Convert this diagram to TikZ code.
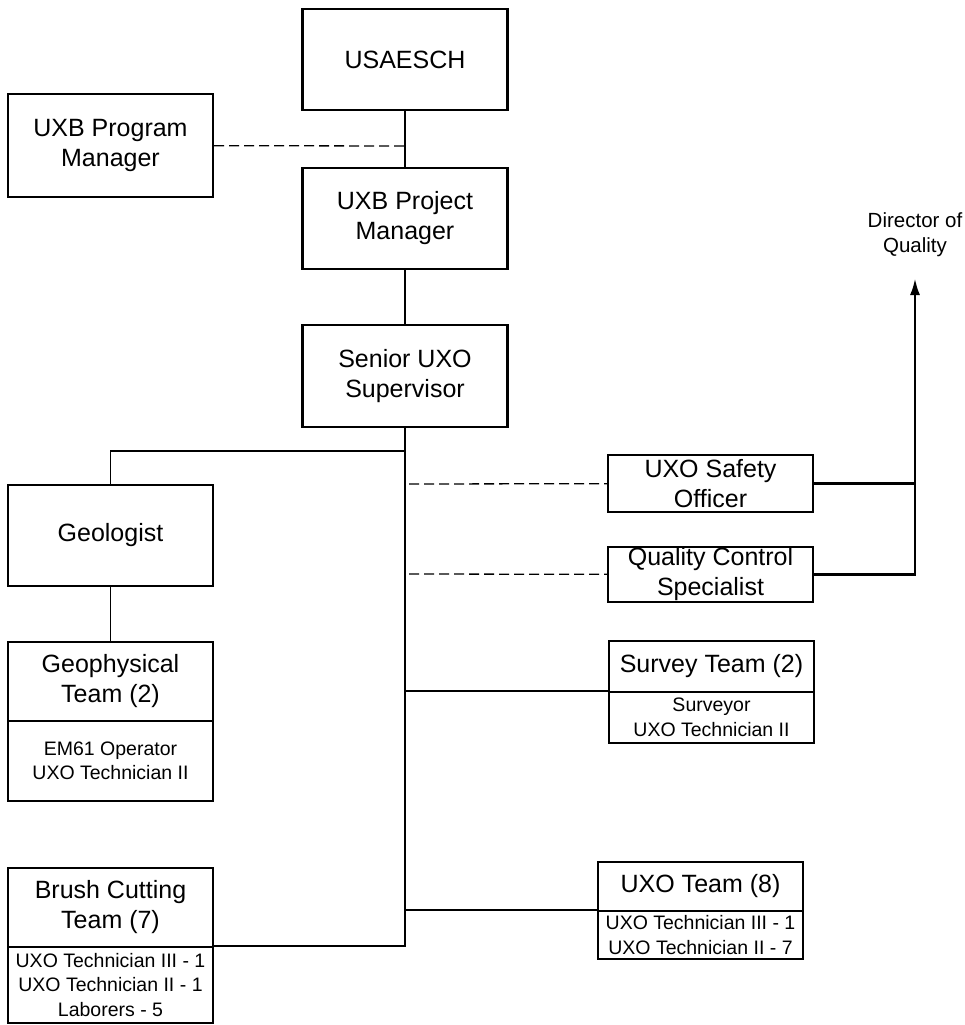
\documentclass[tikz,border=0pt]{standalone}
\usepackage{fontspec}
\setmainfont{Liberation Sans}
\usetikzlibrary{arrows.meta}
\tikzset{>={Latex[length=17pt,width=10pt]},
  unit/.style={draw,line width=2.2pt,minimum width=205pt,inner sep=0pt,align=center,font=\fontsize{25}{30}\selectfont},
  crew/.style={unit,font=\fontsize{19.5}{24.5}\selectfont},
  link/.style={line width=1.2pt},
  staff/.style={line width=1.3pt,dash pattern=on 10pt off 5pt},
  report/.style={line width=2.8pt}}

\begin{document}
\begin{tikzpicture}[x=1pt,y=-1pt]
\useasboundingbox (0,0) rectangle (965,1025);
% chain of command
\node[unit,minimum height=101pt] (USA) at (405,59.5) {USAESCH};
\node[unit,minimum height=103pt] (PGM) at (110.5,145.5) {UXB Program\\Manager};
\node[unit,minimum height=101pt] (PJM) at (405,218.5) {UXB Project\\Manager};
\node[unit,minimum height=102pt] (SUP) at (405,376) {Senior UXO\\Supervisor};
% left branch
\node[unit,minimum height=101pt] (GEO) at (110.5,535.5) {Geologist};
\node[unit,minimum height=79pt] (GPH) at (110.5,681.5) {Geophysical\\Team (2)};
\node[crew,minimum height=80pt] (GPHc) at (110.5,761) {EM61 Operator\\UXO Technician II};
\node[unit,minimum height=79pt] (BRU) at (110.5,907.5) {Brush Cutting\\Team (7)};
\node[crew,minimum height=76pt] (BRUc) at (110.5,985) {UXO Technician III - 1\\UXO Technician II - 1\\Laborers - 5};
% right branch
\node[unit,minimum height=57pt] (SAF) at (710.5,483.5) {UXO Safety\\Officer};
\node[unit,minimum height=55pt] (QCS) at (710.5,574.5) {Quality Control\\Specialist};
\node[unit,minimum height=51pt] (SRV) at (711.5,666.5) {Survey Team (2)};
\node[crew,minimum height=51pt] (SRVc) at (711.5,717.5) {Surveyor\\UXO Technician II};
\node[unit,minimum height=49pt] (UXO) at (700.5,886.5) {UXO Team (8)};
\node[crew,minimum height=48pt] (UXOc) at (700.5,935) {UXO Technician III - 1\\UXO Technician II - 7};
\node[font=\fontsize{20.5}{25}\selectfont,align=center] (DOQ) at (915,235) {Director of\\Quality};

\coordinate (pgmj) at (405,146);
\coordinate (geoj) at (405,451);
\coordinate (safj) at (409,484);
\coordinate (qcsj) at (409,574);
\coordinate (dir) at (915,278);

\draw[link] (USA) -- (PJM);
\draw[staff] (PGM) -- (pgmj);
\draw[link] (PJM) -- (SUP);
\draw[link] (SUP.south) -- (SUP.south |- BRUc.north east) -- (BRUc.north east);
\draw[link] (geoj) -| (GEO);
\draw[link] (GEO) -- (GPH);
\draw[link] (SUP.south |- SRVc.north west) -- (SRVc.north west);
\draw[link] (SUP.south |- UXOc.north west) -- (UXOc.north west);
\draw[staff] (safj) -- (SAF);
\draw[staff] (qcsj) -- (QCS);
\draw[report] (SAF.east) -- (SAF.east -| dir);
\draw[report,->] (QCS.east) -| (dir);
\end{tikzpicture}
\end{document}
